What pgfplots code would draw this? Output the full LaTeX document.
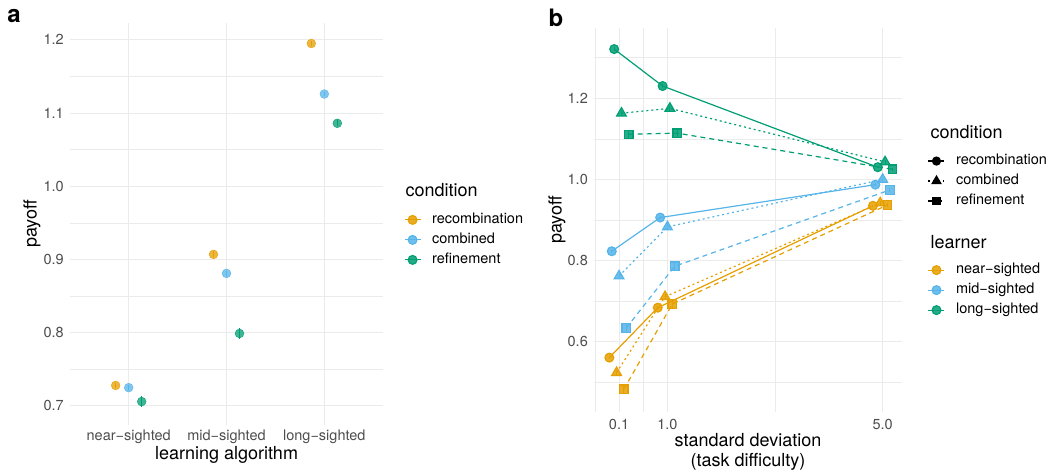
\documentclass[border=0pt]{standalone}
\usepackage{pgfplots}
\pgfplotsset{compat=1.18}
\usepackage{fontspec}
\setmainfont{TeX Gyre Heros}

\definecolor{cNear}{HTML}{E69F00}
\definecolor{cMid}{HTML}{56B4E9}
\definecolor{cLong}{HTML}{009E73}
\definecolor{gridc}{HTML}{EBEBEB}
\definecolor{tickc}{HTML}{4D4D4D}

\newcommand{\ticksize}{\fontsize{14.5bp}{17bp}\selectfont}
\newcommand{\titlesize}{\fontsize{18bp}{20bp}\selectfont}
\newcommand{\mn}{\char"2212\relax}

% ggplot theme_minimal look
\pgfplotsset{
  gg/.style={
    scale only axis,
    axis line style={draw=none},
    tick style={draw=none},
    grid=both,
    major grid style={gridc, line width=1bp},
    minor grid style={gridc, line width=0.6bp},
    tick label style={font=\ticksize, text=tickc, inner sep=0pt},
    /pgf/number format/assume math mode=true,
    yticklabel={\pgfmathprintnumber[fixed,fixed zerofill,precision=1]{\tick}},
    yticklabel style={anchor=east, xshift=-6bp},
    xticklabel style={anchor=center, yshift=-12bp},
    label style={font=\titlesize},
    legend style={draw=none, fill=none, inner sep=0pt, outer sep=0pt,
      anchor=north west, font=\ticksize, row sep=6.5bp,
      nodes={inner sep=0pt, text height=10.5bp, text depth=3bp},
      /tikz/every odd column/.style={column sep=11bp}},
    legend cell align=left,
    legend image code/.code={
      \draw[mark repeat=2,mark phase=2,#1]
        plot coordinates {(0bp,0bp) (8bp,0bp) (16bp,0bp)};},
  },
  dot/.style={color=#1, only marks, mark=*, mark size=4.4bp,
    mark options={draw=none, fill=#1, fill opacity=0.75},
    /pgfplots/error bars/y dir=both, /pgfplots/error bars/y explicit,
    /pgfplots/error bars/error mark=none,
    /pgfplots/error bars/error bar style={#1, line width=1.2bp}},
  ser/.style n args={3}{color=#1, line width=1.2bp, mark=#2,
    mark size=#3, mark options={solid, draw=none, fill=#1, fill opacity=0.85},
    /pgfplots/error bars/y dir=both, /pgfplots/error bars/y explicit,
    /pgfplots/error bars/error mark=none,
    /pgfplots/error bars/error bar style={solid, #1, line width=1bp}},
  rec/.style={solid},
  comb/.style={dash pattern=on 2bp off 3bp},
  refi/.style={dash pattern=on 5bp off 4bp},
  key/.style={#1, line width=1.2bp, mark=*, mark size=4.4bp,
    mark options={draw=none, fill=#1, fill opacity=0.85}},
}

\begin{document}
\begin{tikzpicture}[x=1bp,y=1bp]
\path[use as bounding box] (0,0) rectangle (1054,474);

% ---------------- panel a ----------------
\begin{axis}[gg,
  at={(70bp,49bp)}, anchor=south west,
  width=313bp, height=402bp,
  xmin=0.4, xmax=3.6, ymin=0.674, ymax=1.223,
  xtick={1,2,3},
  xticklabels={near\mn sighted, mid\mn sighted, long\mn sighted},
  ytick={0.7,0.8,0.9,1.0,1.1,1.2},
  minor ytick={0.75,0.85,0.95,1.05,1.15},
  xlabel={learning algorithm},
  ylabel={payoff},
  xlabel style={at={(axis description cs:0.5,0)}, anchor=center, yshift=-30bp},
  ylabel style={at={(axis description cs:0,0.5)}, anchor=center, yshift=38bp},
  legend style={at={(1.067,0.527)}},
]
\addplot[dot=cNear, forget plot] table[x=x, y=y, y error=e] {
x      y     e
0.867  0.728 0.004
1.867  0.907 0.004
2.867  1.195 0.003
};
\addplot[dot=cMid, forget plot] table[x=x, y=y, y error=e] {
x      y     e
1.000  0.725 0.003
2.000  0.881 0.003
3.000  1.126 0.003
};
\addplot[dot=cLong, forget plot] table[x=x, y=y, y error=e] {
x      y     e
1.133  0.706 0.008
2.133  0.799 0.007
3.133  1.086 0.004
};
\addlegendimage{key=cNear}
\addlegendentry{recombination}
\addlegendimage{key=cMid}
\addlegendentry{combined}
\addlegendimage{key=cLong}
\addlegendentry{refinement}
\end{axis}

\node[font=\bfseries\fontsize{24bp}{26bp}\selectfont] at (14,458) {a};
\node[anchor=west, font=\titlesize] at (402,284) {condition};

% ---------------- panel b ----------------
\begin{axis}[gg,
  at={(594bp,62bp)}, anchor=south west,
  width=308bp, height=384bp,
  xmin=-0.365, xmax=5.36, ymin=0.427, ymax=1.373,
  xtick={0.1,1,5}, xticklabels={0.1,1.0,5.0},
  minor xtick={-0.35,0.55,3},
  ytick={0.6,0.8,1.0,1.2},
  minor ytick={0.5,0.7,0.9,1.1,1.3},
  xlabel={standard deviation\\(task difficulty)},
  xlabel style={align=center, at={(axis description cs:0.5,0)}, anchor=center, yshift=-40bp},
  ylabel={payoff},
  ylabel style={at={(axis description cs:0,0.5)}, anchor=center, yshift=37bp},
]
% recombination (circles, solid)
\addplot[ser={cNear}{*}{4.4bp}, rec] table[x=x, y=y, y error=e] {
x      y     e
-0.080 0.561 0.004
0.820  0.684 0.004
4.820  0.935 0.003
};
\addplot[ser={cMid}{*}{4.4bp}, rec] table[x=x, y=y, y error=e] {
x      y     e
-0.035 0.823 0.004
0.865  0.906 0.004
4.865  0.987 0.003
};
\addplot[ser={cLong}{*}{4.4bp}, rec] table[x=x, y=y, y error=e] {
x      y     e
0.010  1.321 0.004
0.910  1.230 0.004
4.910  1.030 0.003
};
% combined (triangles, dotted)
\addplot[ser={cNear}{triangle*}{5.6bp}, comb] table[x=x, y=y, y error=e] {
x      y     e
0.055  0.524 0.006
0.955  0.711 0.006
4.955  0.942 0.004
};
\addplot[ser={cMid}{triangle*}{5.6bp}, comb] table[x=x, y=y, y error=e] {
x      y     e
0.100  0.762 0.006
1.000  0.883 0.006
5.000  1.000 0.004
};
\addplot[ser={cLong}{triangle*}{5.6bp}, comb] table[x=x, y=y, y error=e] {
x      y     e
0.145  1.163 0.006
1.045  1.175 0.006
5.045  1.043 0.004
};
% refinement (squares, dashed)
\addplot[ser={cNear}{square*}{4.2bp}, refi] table[x=x, y=y, y error=e] {
x      y     e
0.190  0.483 0.009
1.090  0.693 0.009
5.090  0.937 0.004
};
\addplot[ser={cMid}{square*}{4.2bp}, refi] table[x=x, y=y, y error=e] {
x      y     e
0.235  0.634 0.009
1.135  0.786 0.009
5.135  0.974 0.004
};
\addplot[ser={cLong}{square*}{4.2bp}, refi] table[x=x, y=y, y error=e] {
x      y     e
0.280  1.111 0.009
1.180  1.114 0.009
5.180  1.025 0.004
};
\end{axis}

% legend: condition
\begin{axis}[gg, hide axis,
  at={(594bp,62bp)}, anchor=south west,
  width=308bp, height=384bp,
  xmin=0, xmax=1, ymin=0, ymax=1,
  legend style={at={(1.084,0.671)}},
]
\addlegendimage{black, line width=1.2bp, mark=*, mark size=4bp, mark options={solid}}
\addlegendentry{recombination}
\addlegendimage{black, line width=1.2bp, dash pattern=on 2bp off 3bp, mark=triangle*, mark size=5bp, mark options={solid}}
\addlegendentry{combined}
\addlegendimage{black, line width=1.2bp, dash pattern=on 5bp off 4bp, mark=square*, mark size=3.8bp, mark options={solid}}
\addlegendentry{refinement}
\end{axis}

% legend: learner
\begin{axis}[gg, hide axis,
  at={(594bp,62bp)}, anchor=south west,
  width=308bp, height=384bp,
  xmin=0, xmax=1, ymin=0, ymax=1,
  legend style={at={(1.084,0.387)}},
]
\addlegendimage{key=cNear}
\addlegendentry{near\mn sighted}
\addlegendimage{key=cMid}
\addlegendentry{mid\mn sighted}
\addlegendimage{key=cLong}
\addlegendentry{long\mn sighted}
\end{axis}

\node[font=\bfseries\fontsize{24bp}{26bp}\selectfont] at (556,456) {b};
\node[anchor=west, font=\titlesize] at (927,342) {condition};
\node[anchor=west, font=\titlesize] at (927,232) {learner};
\end{tikzpicture}
\end{document}
